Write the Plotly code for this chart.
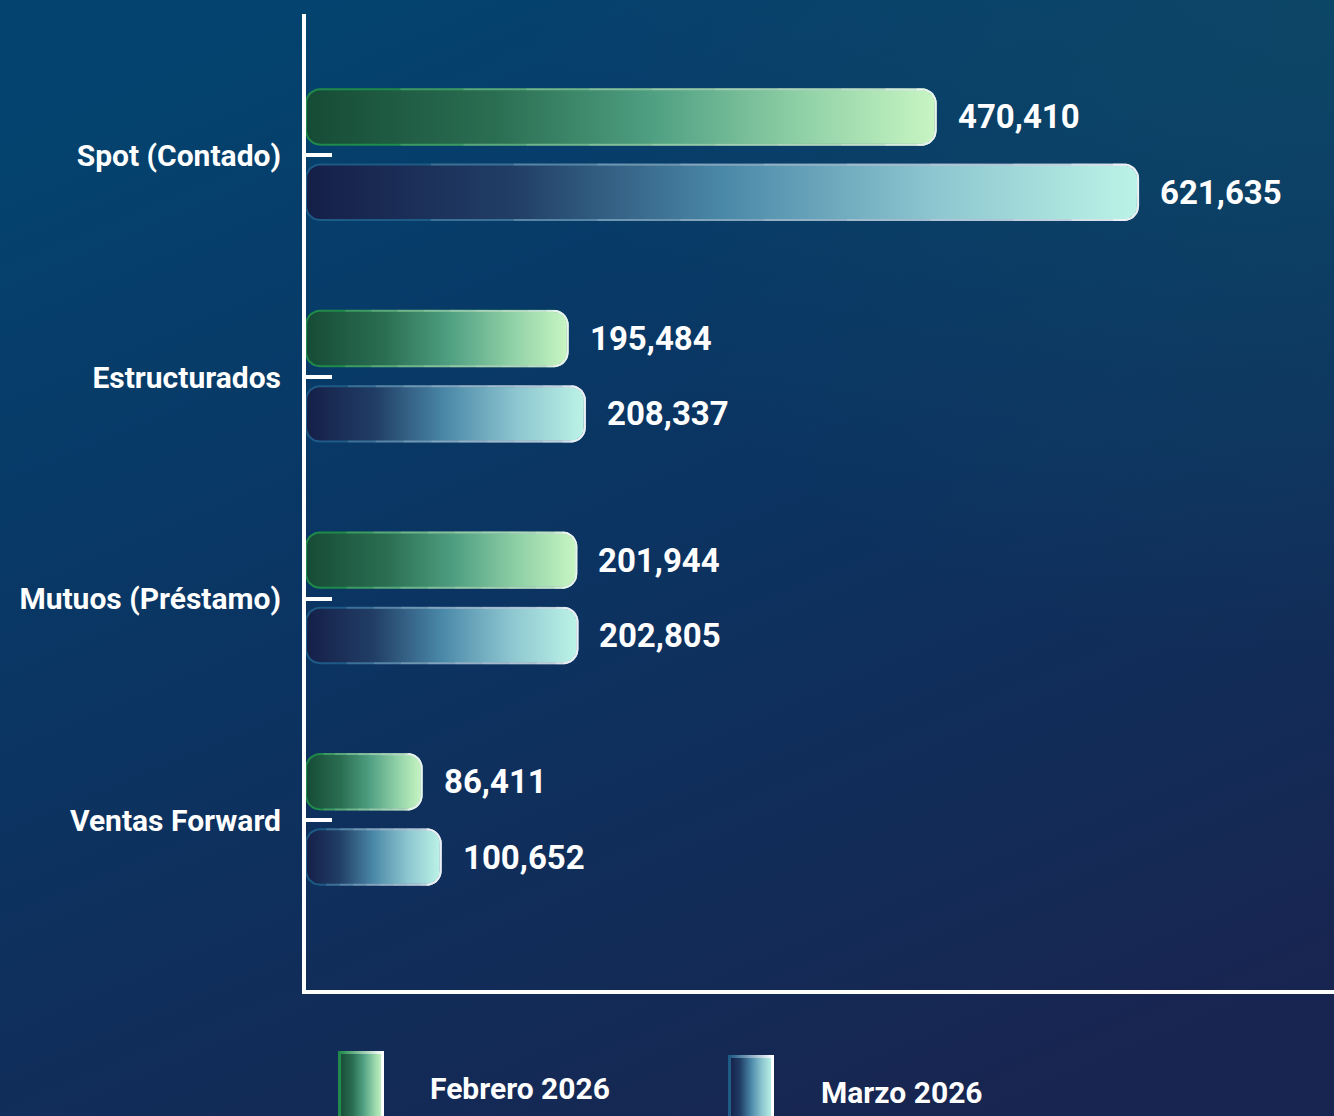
import base64
import numpy as np
import plotly.graph_objects as go

# ---------------- data ----------------
categories = ["Spot (Contado)", "Estructurados", "Mutuos (Préstamo)", "Ventas Forward"]
feb_values = [470410, 195484, 201944, 86411]
mar_values = [621635, 208337, 202805, 100652]
series_names = ["Febrero 2026", "Marzo 2026"]

# ---------------- layout constants ----------------
W, H = 1334, 1116
ML, MR, MT, MB = 306, 0, 14, 126
PW, PH = W - ML - MR, H - MT - MB
X_MAX = 768000
Y_RANGE = [3.766, -0.6385]
BAR_H = 0.25
OFFSETS = [-0.174, 0.166]
RADIUS_PX = 14

px_per_x = PW / X_MAX
px_per_y = PH / abs(Y_RANGE[0] - Y_RANGE[1])
RX = RADIUS_PX / px_per_x
RY = RADIUS_PX / px_per_y

FEB_SCALE = [[0, "#164b36"], [0.3, "#2a6e52"], [0.55, "#4f9f82"], [0.8, "#93d3a8"], [1, "#c8f5c3"]]
MAR_SCALE = [[0, "#151f48"], [0.25, "#213e66"], [0.5, "#4a88a8"], [0.75, "#8cc5cf"], [1, "#bcf3e7"]]
FEB_EDGE = "#1f8a4a"
MAR_EDGE = "#1d5a86"
HIGHLIGHT_STEPS = [(0.15, 0.14), (0.25, 0.14), (0.35, 0.14), (0.45, 0.14), (0.55, 0.14),
                   (0.65, 0.14), (0.75, 0.14), (0.85, 0.2), (0.92, 0.35), (0.97, 0.5)]


def arc(cx, cy, t0, t1, n=10):
    t = np.linspace(t0, t1, n)
    return list(cx + RX * np.cos(t)), list(cy + RY * np.sin(t))


def rounded_bar(x1, yc, hh):
    x0 = 0.0
    xs, ys = [], []
    for (cx, cy, a, b) in [
        (x1 - RX, yc - hh + RY, -np.pi / 2, 0),
        (x1 - RX, yc + hh - RY, 0, np.pi / 2),
        (x0 + RX, yc + hh - RY, np.pi / 2, np.pi),
        (x0 + RX, yc - hh + RY, np.pi, 1.5 * np.pi),
    ]:
        ax, ay = arc(cx, cy, a, b)
        xs += ax
        ys += ay
    xs.append(xs[0])
    ys.append(ys[0])
    return xs, ys


def highlight(x1, yc, hh, frac):
    xm = min(max(frac * x1, RX), x1 - RX)
    xs, ys = [xm], [yc - hh]
    for (cx, cy, a, b) in [
        (x1 - RX, yc - hh + RY, -np.pi / 2, 0),
        (x1 - RX, yc + hh - RY, 0, np.pi / 2),
    ]:
        ax, ay = arc(cx, cy, a, b)
        xs += ax
        ys += ay
    xs.append(xm)
    ys.append(yc + hh)
    return xs, ys


fig = go.Figure()
series = [(feb_values, FEB_SCALE, FEB_EDGE, OFFSETS[0], series_names[0]),
          (mar_values, MAR_SCALE, MAR_EDGE, OFFSETS[1], series_names[1])]

annotations = []
for vals, scale, edge, off, name in series:
    for i, (cat, v) in enumerate(zip(categories, vals)):
        yc = i + off
        bx, by = rounded_bar(v, yc, BAR_H / 2)
        fig.add_trace(go.Scatter(
            x=bx, y=by, mode="lines", fill="toself",
            fillgradient=dict(type="horizontal", colorscale=scale),
            line=dict(color=edge, width=2),
            name=name, showlegend=False,
            hoverinfo="text", text=f"{name} – {cat}: {v:,}",
        ))
        for frac, alpha in HIGHLIGHT_STEPS:
            hx, hy = highlight(v, yc, BAR_H / 2, frac)
            fig.add_trace(go.Scatter(
                x=hx, y=hy, mode="lines",
                line=dict(color=f"rgba(255,255,255,{alpha})", width=2),
                showlegend=False, hoverinfo="skip",
            ))
        annotations.append(dict(
            x=v, y=yc, xref="x", yref="y", text=f"<b>{v:,}</b>",
            showarrow=False, xanchor="left", yanchor="middle", xshift=20,
            font=dict(family="Roboto", size=33, color="white"),
        ))


def svg_uri(svg):
    return "data:image/svg+xml;base64," + base64.b64encode(svg.encode()).decode()


bg_svg = f"""<svg xmlns='http://www.w3.org/2000/svg' width='{W}' height='{H}' viewBox='0 0 {W} {H}' preserveAspectRatio='none'>
<defs><linearGradient id='bg' x1='0.25' y1='0' x2='0.75' y2='1'>
<stop offset='0' stop-color='#04436f'/><stop offset='0.45' stop-color='#0b3462'/><stop offset='1' stop-color='#182550'/>
</linearGradient>
<radialGradient id='tr' cx='1' cy='0' r='0.6'>
<stop offset='0' stop-color='#0f5068' stop-opacity='0.6'/><stop offset='1' stop-color='#0f5068' stop-opacity='0'/>
</radialGradient></defs>
<rect width='{W}' height='{H}' fill='url(#bg)'/><rect width='{W}' height='{H}' fill='url(#tr)'/></svg>"""


def swatch_svg(scale, edge):
    stops = "".join(f"<stop offset='{o}' stop-color='{c}'/>" for o, c in scale)
    return f"""<svg xmlns='http://www.w3.org/2000/svg' width='46' height='70' viewBox='0 0 46 70' preserveAspectRatio='none'>
<defs><linearGradient id='g' x1='0' y1='0' x2='1' y2='0'>{stops}</linearGradient>
<linearGradient id='s' x1='0' y1='0' x2='1' y2='0'><stop offset='0' stop-color='{edge}'/><stop offset='1' stop-color='#ffffff'/></linearGradient></defs>
<rect x='1.5' y='1.5' width='43' height='80' fill='url(#g)' stroke='url(#s)' stroke-width='3'/></svg>"""


def px_x(p):
    return (p - ML) / PW


def px_y(p):
    return (H - MB - p) / PH


images = [
    dict(source=svg_uri(bg_svg), xref="paper", yref="paper", x=px_x(0), y=px_y(0),
         sizex=W / PW, sizey=H / PH, sizing="stretch", layer="below", xanchor="left", yanchor="top"),
    dict(source=svg_uri(swatch_svg(FEB_SCALE, FEB_EDGE)), xref="paper", yref="paper",
         x=px_x(338), y=px_y(1051), sizex=46 / PW, sizey=70 / PH, sizing="stretch",
         layer="above", xanchor="left", yanchor="top"),
    dict(source=svg_uri(swatch_svg(MAR_SCALE, MAR_EDGE)), xref="paper", yref="paper",
         x=px_x(728), y=px_y(1055), sizex=46 / PW, sizey=70 / PH, sizing="stretch",
         layer="above", xanchor="left", yanchor="top"),
]

annotations += [
    dict(x=px_x(428), y=px_y(1088), xref="paper", yref="paper", text=f"<b>{series_names[0]}</b>",
         showarrow=False, xanchor="left", yanchor="middle",
         font=dict(family="Roboto", size=30, color="white")),
    dict(x=px_x(819), y=px_y(1092), xref="paper", yref="paper", text=f"<b>{series_names[1]}</b>",
         showarrow=False, xanchor="left", yanchor="middle",
         font=dict(family="Roboto", size=30, color="white")),
]

fig.update_layout(
    width=W, height=H,
    margin=dict(l=ML, r=MR, t=MT, b=MB, pad=0),
    paper_bgcolor="#0b3562", plot_bgcolor="rgba(0,0,0,0)",
    showlegend=False,
    images=images, annotations=annotations,
    font=dict(family="Roboto", color="white"),
    xaxis=dict(range=[0, X_MAX], showgrid=False, zeroline=False, showticklabels=False,
               ticks="", showline=True, linecolor="white", linewidth=4, fixedrange=True),
    yaxis=dict(range=Y_RANGE, tickmode="array", tickvals=list(range(len(categories))),
               ticktext=[f"<b>{c}</b>" for c in categories], showgrid=False, zeroline=False,
               ticks="inside", ticklen=26, tickwidth=4, tickcolor="white",
               showline=True, linecolor="white", linewidth=4,
               tickfont=dict(family="Roboto", size=30, color="white"),
               ticklabelstandoff=15, fixedrange=True),
)

fig.write_html("out.html", config={"displayModeBar": False},
               post_script="document.body.style.margin='0';")
